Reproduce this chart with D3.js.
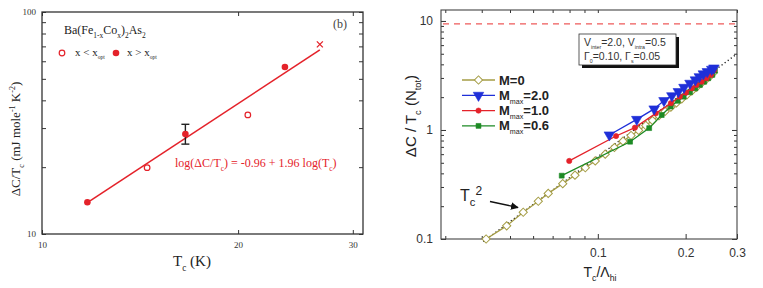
<!doctype html>
<html lang="en">
<head>
  <meta charset="utf-8">
  <title>Delta C / Tc</title>
  <script src="https://cdn.jsdelivr.net/npm/d3@7"></script>
  <style>
    body { margin: 0; background: #fff; }
  </style>
</head>
<body>
  <svg id="chart" width="763" height="288"></svg>
  <script>
    // ---- left panel: Ba(Fe1-xCox)2As2 data ----
    const openTc = [14.5, 20.7];
    const openDc = [19.9, 34.4];
    const filledTc = [11.74, 16.6, 23.6];
    const filledDc = [13.9, 28.2, 56.5];
    const crossTc = [26.7];
    const crossDc = [71.5];
    const errTc = [16.6];
    const errLow = [25.4];
    const errHigh = [31.2];
    const fitTc = [11.85, 26.7];
    const fitDc = [14.1, 67.5];
    const leftXTicks = [10, 20, 30];
    const leftYTicks = [10, 20, 30, 40, 50, 60, 70, 80, 90, 100];

    // ---- right panel: model curves ----
    const m0X = [0.0414, 0.0487, 0.0555, 0.0625, 0.0676, 0.0758, 0.0835, 0.0906, 0.098, 0.106,
      0.114, 0.122, 0.130, 0.138, 0.146, 0.154, 0.162, 0.170, 0.178, 0.186,
      0.194, 0.202, 0.210, 0.218, 0.226, 0.234, 0.242, 0.249];
    const m0Y = [0.100, 0.132, 0.176, 0.222, 0.262, 0.322, 0.385, 0.45, 0.52, 0.60,
      0.69, 0.79, 0.89, 0.99, 1.10, 1.22, 1.35, 1.48, 1.62, 1.77,
      1.93, 2.10, 2.28, 2.47, 2.67, 2.88, 3.10, 3.35];
    const m20X = [0.1095, 0.136, 0.156, 0.1686, 0.1794, 0.1888, 0.1974, 0.207, 0.216, 0.2228, 0.230, 0.2373, 0.2457, 0.250];
    const m20Y = [0.90, 1.25, 1.56, 1.86, 2.06, 2.25, 2.46, 2.68, 2.88, 3.08, 3.27, 3.43, 3.60, 3.70];
    const m10X = [0.0798, 0.1155, 0.134, 0.158, 0.178, 0.191, 0.2006, 0.210, 0.218, 0.227, 0.236, 0.2443, 0.2507];
    const m10Y = [0.52, 0.88, 1.05, 1.42, 1.76, 2.02, 2.20, 2.41, 2.59, 2.77, 2.98, 3.20, 3.55];
    const m06X = [0.0752, 0.129, 0.150, 0.1656, 0.1778, 0.1879, 0.197, 0.207, 0.216, 0.224, 0.2317, 0.239, 0.247, 0.252];
    const m06Y = [0.381, 0.78, 1.04, 1.37, 1.64, 1.85, 2.02, 2.22, 2.41, 2.59, 2.77, 2.98, 3.20, 3.50];
    const tc2X = [0.0405, 0.3];
    const tc2Y = [0.095, 5.0];
    const limitY = 9.4;
    const rightXTicks = [0.03, 0.04, 0.05, 0.06, 0.07, 0.08, 0.09, 0.1, 0.2, 0.3];
    const rightXLabels = [0.1, 0.2, 0.3];
    const rightYTicks = [0.1, 0.2, 0.3, 0.4, 0.5, 0.6, 0.7, 0.8, 0.9, 1, 2, 3, 4, 5, 6, 7, 8, 9, 10];
    const rightYLabels = [0.1, 1, 10];

    const OLIVE = "#a59d45";
    const BLUE = "#1f2fd8";
    const RED = "#e4222a";
    const GREEN = "#1c8a24";
    const SERIF = "'Liberation Serif', 'DejaVu Serif', serif";
    const SANS = "'Liberation Sans', Arial, sans-serif";

    const svg = d3.select("#chart");

    function zip(xs, ys) {
      return xs.map((x, i) => ({ x, y: ys[i] }));
    }

    // tick marks pointing into the plot box, labels only where asked
    function addAxis(g, axis, transform, labels, fmt, font, size, color) {
      const a = g.append("g")
        .attr("transform", transform)
        .call(axis.tickFormat(d => labels.includes(d) ? fmt(d) : ""));
      a.select(".domain").remove();
      a.selectAll("line").attr("stroke", color);
      a.selectAll("text")
        .style("font-family", font)
        .style("font-size", size + "px")
        .attr("fill", color);
      return a;
    }

    // sub/superscript helper
    function richText(g, x, y, parts, font, size, color, anchor) {
      const t = g.append("text")
        .attr("x", x).attr("y", y)
        .style("font-family", font)
        .style("font-size", size + "px")
        .attr("fill", color)
        .attr("text-anchor", anchor || "start");
      let shift = 0;
      parts.forEach(p => {
        const s = p.sub ? size * 0.3 : p.sup ? -size * 0.4 : 0;
        t.append("tspan")
          .attr("dy", s - shift)
          .style("font-size", (p.sub || p.sup ? size * (p.small || 0.62) : size) + "px")
          .style("font-weight", p.bold ? "bold" : null)
          .text(p.t);
        shift = s;
      });
      return t;
    }

    // ================= LEFT PANEL =================
    const L = { x0: 42, x1: 363, y0: 12, y1: 234 };
    const xL = d3.scaleLog().domain([10, 31.1]).range([L.x0, L.x1]);
    const yL = d3.scaleLog().domain([10, 100]).range([L.y1, L.y0]);
    const left = svg.append("g");

    const fmtInt = d => String(Math.round(d));
    addAxis(left, d3.axisBottom(xL).tickValues(leftXTicks).tickSizeInner(-4).tickPadding(8),
      `translate(0,${L.y1})`, leftXTicks, fmtInt, SERIF, 9, "#333");
    addAxis(left, d3.axisTop(xL).tickValues(leftXTicks).tickSizeInner(-4),
      `translate(0,${L.y0})`, [], fmtInt, SERIF, 9, "#333");
    addAxis(left, d3.axisLeft(yL).tickValues(leftYTicks).tickSizeInner(-4).tickPadding(6),
      `translate(${L.x0},0)`, [10, 100], fmtInt, SERIF, 9, "#333");
    addAxis(left, d3.axisRight(yL).tickValues(leftYTicks).tickSizeInner(-4),
      `translate(${L.x1},0)`, [], fmtInt, SERIF, 9, "#333");

    left.append("rect")
      .attr("x", L.x0).attr("y", L.y0)
      .attr("width", L.x1 - L.x0).attr("height", L.y1 - L.y0)
      .attr("fill", "none").attr("stroke", "#333").attr("stroke-width", 1.3);

    // fit line
    left.append("path")
      .datum(zip(fitTc, fitDc))
      .attr("d", d3.line().x(d => xL(d.x)).y(d => yL(d.y)))
      .attr("fill", "none").attr("stroke", RED).attr("stroke-width", 1.6);

    // error bar
    errTc.forEach((t, i) => {
      const cx = xL(t);
      left.append("line").attr("x1", cx).attr("x2", cx)
        .attr("y1", yL(errLow[i])).attr("y2", yL(errHigh[i]))
        .attr("stroke", "#222").attr("stroke-width", 1.4);
      [errLow[i], errHigh[i]].forEach(v => {
        left.append("line").attr("x1", cx - 4).attr("x2", cx + 4)
          .attr("y1", yL(v)).attr("y2", yL(v))
          .attr("stroke", "#222").attr("stroke-width", 1.4);
      });
    });

    left.selectAll(".open").data(zip(openTc, openDc)).enter().append("circle")
      .attr("cx", d => xL(d.x)).attr("cy", d => yL(d.y)).attr("r", 2.8)
      .attr("fill", "#fff").attr("stroke", RED).attr("stroke-width", 1.2);
    left.selectAll(".filled").data(zip(filledTc, filledDc)).enter().append("circle")
      .attr("cx", d => xL(d.x)).attr("cy", d => yL(d.y)).attr("r", 3.3)
      .attr("fill", RED);
    left.selectAll(".cross").data(zip(crossTc, crossDc)).enter().append("path")
      .attr("transform", d => `translate(${xL(d.x)},${yL(d.y)})`)
      .attr("d", "M-3,-3L3,3M-3,3L3,-3")
      .attr("stroke", RED).attr("stroke-width", 1.3);

    // annotations
    richText(left, 64, 34, [{ t: "Ba(Fe" }, { t: "1-x", sub: true }, { t: "Co" }, { t: "x", sub: true },
      { t: ")" }, { t: "2", sub: true }, { t: "As" }, { t: "2", sub: true }], SERIF, 12, "#222");
    left.append("text").attr("x", 333).attr("y", 28).text("(b)")
      .style("font-family", SERIF).style("font-size", "12px").attr("fill", "#444");

    left.append("circle").attr("cx", 62).attr("cy", 53).attr("r", 2.8)
      .attr("fill", "#fff").attr("stroke", RED).attr("stroke-width", 1.2);
    richText(left, 75, 56, [{ t: "x < x" }, { t: "opt", sub: true, small: 0.5 }], SERIF, 11, "#222");
    left.append("circle").attr("cx", 116).attr("cy", 53).attr("r", 3.3).attr("fill", RED);
    richText(left, 127, 56, [{ t: "x > x" }, { t: "opt", sub: true, small: 0.5 }], SERIF, 11, "#222");

    richText(left, 175, 167, [{ t: "log(ΔC/T" }, { t: "c", sub: true }, { t: ") = -0.96 + 1.96 log(T" },
      { t: "c", sub: true }, { t: ")" }], SERIF, 12, RED);

    richText(left, 192, 266, [{ t: "T" }, { t: "c", sub: true }, { t: " (K)" }], SERIF, 15, "#222", "middle");

    const yLabL = richText(left, 0, 0, [{ t: "ΔC/T" }, { t: "c", sub: true }, { t: " (mJ mole" },
      { t: "-1", sup: true }, { t: " K" }, { t: "-2", sup: true }, { t: ")" }], SERIF, 13, "#222", "middle");
    yLabL.attr("transform", "translate(20,139) rotate(-90)");

    // ================= RIGHT PANEL =================
    const R = { x0: 441, x1: 737, y0: 10, y1: 239 };
    const xR = d3.scaleLog().domain([0.029, 0.3]).range([R.x0, R.x1]);
    const yR = d3.scaleLog().domain([0.1, 12.6]).range([R.y1, R.y0]);
    const right = svg.append("g");

    const fmtR = d => d3.format("~g")(d);
    const bx = addAxis(right, d3.axisBottom(xR).tickValues(rightXTicks).tickSizeInner(-4).tickPadding(9),
      `translate(0,${R.y1})`, rightXLabels, fmtR, SANS, 12, "#333");
    bx.selectAll(".tick line").attr("y2", d => rightXLabels.includes(d) ? -5 : -3);
    addAxis(right, d3.axisTop(xR).tickValues(rightXTicks).tickSizeInner(-3),
      `translate(0,${R.y0})`, [], fmtR, SANS, 12, "#333");
    const ly = addAxis(right, d3.axisLeft(yR).tickValues(rightYTicks).tickSizeInner(-3).tickPadding(8),
      `translate(${R.x0},0)`, rightYLabels, fmtR, SANS, 12, "#333");
    ly.selectAll(".tick line").attr("x2", d => rightYLabels.includes(d) ? 5 : 3);
    const ry = addAxis(right, d3.axisRight(yR).tickValues(rightYTicks).tickSizeInner(-3),
      `translate(${R.x1},0)`, [], fmtR, SANS, 12, "#333");
    ry.selectAll(".tick line").attr("x2", d => rightYLabels.includes(d) ? -5 : -3);

    right.append("rect")
      .attr("x", R.x0).attr("y", R.y0)
      .attr("width", R.x1 - R.x0).attr("height", R.y1 - R.y0)
      .attr("fill", "none").attr("stroke", "#444").attr("stroke-width", 1.1);

    // limit line
    right.append("line")
      .attr("x1", R.x0 + 2).attr("x2", R.x1 - 2)
      .attr("y1", yR(limitY)).attr("y2", yR(limitY))
      .attr("stroke", "#ee5a5a").attr("stroke-width", 1.2).attr("stroke-dasharray", "6,5");

    const lineR = d3.line().x(d => xR(d.x)).y(d => yR(d.y));

    // Tc^2 dotted guide
    right.append("path")
      .datum(zip(tc2X, tc2Y))
      .attr("d", lineR)
      .attr("fill", "none").attr("stroke", "#111").attr("stroke-width", 1.3)
      .attr("stroke-dasharray", "1.2,2.6");

    const series = [
      { xs: m0X, ys: m0Y, color: OLIVE, sym: d3.symbolSquare, size: 34, rot: 45, open: true, name: [{ t: "M=0", bold: true }] },
      { xs: m06X, ys: m06Y, color: GREEN, sym: d3.symbolSquare, size: 24, rot: 0, name: [{ t: "M", bold: true }, { t: "max", sub: true, small: 0.55 }, { t: "=0.6", bold: true }] },
      { xs: m10X, ys: m10Y, color: RED, sym: d3.symbolCircle, size: 22, rot: 0, name: [{ t: "M", bold: true }, { t: "max", sub: true, small: 0.55 }, { t: "=1.0", bold: true }] },
      { xs: m20X, ys: m20Y, color: BLUE, sym: d3.symbolTriangle, size: 48, rot: 180, name: [{ t: "M", bold: true }, { t: "max", sub: true, small: 0.55 }, { t: "=2.0", bold: true }] }
    ];

    function drawMarker(g, s, x, y) {
      g.append("path")
        .attr("transform", `translate(${x},${y}) rotate(${s.rot})`)
        .attr("d", d3.symbol().type(s.sym).size(s.size))
        .attr("fill", s.open ? "#fff" : s.color)
        .attr("stroke", s.color)
        .attr("stroke-width", s.open ? 1 : 0.6);
    }

    series.forEach(s => {
      const pts = zip(s.xs, s.ys);
      right.append("path").datum(pts).attr("d", lineR)
        .attr("fill", "none").attr("stroke", s.color).attr("stroke-width", 1.3);
      pts.forEach(p => drawMarker(right, s, xR(p.x), yR(p.y)));
    });

    // legend (order as in the figure)
    const legendOrder = [0, 3, 2, 1];
    legendOrder.forEach((k, i) => {
      const s = series[k];
      const ly0 = 80 + i * 15.3;
      right.append("line").attr("x1", 462).attr("x2", 495).attr("y1", ly0).attr("y2", ly0)
        .attr("stroke", s.color).attr("stroke-width", 1.3);
      drawMarker(right, s, 478.5, ly0);
      richText(right, 499, ly0 + 4.5, s.name, SANS, 13, "#222");
    });

    // parameter box with shadow
    right.append("rect").attr("x", 582).attr("y", 37).attr("width", 97).attr("height", 31).attr("fill", "#111");
    right.append("rect").attr("x", 579).attr("y", 34).attr("width", 97).attr("height", 31)
      .attr("fill", "#fff").attr("stroke", "#333").attr("stroke-width", 0.8);
    richText(right, 584, 46, [{ t: "V" }, { t: "inter", sub: true, small: 0.5 }, { t: "=2.0, V" },
      { t: "intra", sub: true, small: 0.5 }, { t: "=0.5" }], SANS, 10.5, "#333");
    richText(right, 584, 60, [{ t: "Γ" }, { t: "0", sub: true, small: 0.5 }, { t: "=0.10,  Γ" },
      { t: "s", sub: true, small: 0.5 }, { t: "=0.05" }], SANS, 10.5, "#333");

    // Tc^2 annotation
    richText(right, 460, 201, [{ t: "T" }, { t: "c", sub: true, small: 0.7 }, { t: "2", sup: true, small: 0.75 }], SANS, 16, "#222");
    right.append("defs").append("marker")
      .attr("id", "arrow").attr("viewBox", "0 0 10 10").attr("refX", 9).attr("refY", 5)
      .attr("markerWidth", 6).attr("markerHeight", 6).attr("orient", "auto")
      .append("path").attr("d", "M0,0L10,5L0,10z").attr("fill", "#111");
    right.append("line").attr("x1", 490).attr("y1", 201.5).attr("x2", 518).attr("y2", 207.5)
      .attr("stroke", "#111").attr("stroke-width", 1.3).attr("marker-end", "url(#arrow)");

    // axis titles
    richText(right, 600, 277, [{ t: "T" }, { t: "c", sub: true }, { t: "/Λ" }, { t: "hi", sub: true }], SANS, 14, "#222", "middle");
    const yLabR = richText(right, 0, 0, [{ t: "ΔC / T" }, { t: "c", sub: true }, { t: " (N" },
      { t: "tot", sub: true }, { t: ")" }], SANS, 15, "#222", "middle");
    yLabR.attr("transform", "translate(416,116) rotate(-90)");
  </script>
</body>
</html>
